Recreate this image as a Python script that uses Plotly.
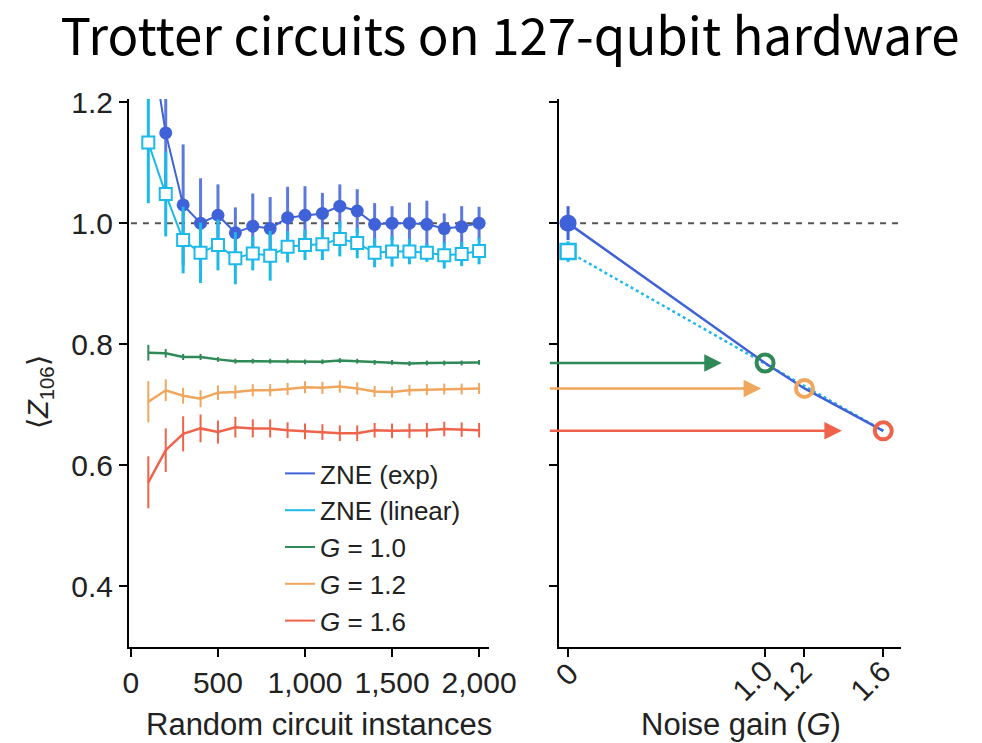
import plotly.graph_objects as go

# ---------------- data ----------------
instances = [100, 200, 300, 400, 500, 600, 700, 800, 900, 1000,
             1100, 1200, 1300, 1400, 1500, 1600, 1700, 1800, 1900, 2000]

zne_exp = [1.33, 1.149, 1.030, 1.000, 1.013, 0.984, 0.995, 0.991, 1.009, 1.013,
           1.016, 1.028, 1.020, 0.998, 1.000, 1.000, 0.998, 0.991, 0.994, 1.000]
zne_exp_err = [0.10, 0.10, 0.10, 0.074, 0.051, 0.042, 0.054, 0.052, 0.051, 0.048,
               0.034, 0.036, 0.036, 0.035, 0.028, 0.034, 0.039, 0.025, 0.034, 0.027]

zne_lin = [1.133, 1.048, 0.972, 0.951, 0.964, 0.942, 0.950, 0.946, 0.961, 0.964,
           0.965, 0.974, 0.967, 0.951, 0.953, 0.953, 0.951, 0.947, 0.949, 0.954]
zne_lin_err = [0.10, 0.07, 0.055, 0.05, 0.042, 0.043, 0.028, 0.041, 0.026, 0.025,
               0.026, 0.029, 0.025, 0.024, 0.025, 0.021, 0.015, 0.022, 0.020, 0.022]

g10 = [0.786, 0.785, 0.779, 0.779, 0.775, 0.772, 0.772, 0.772, 0.772, 0.771,
       0.771, 0.773, 0.772, 0.770, 0.770, 0.768, 0.769, 0.769, 0.769, 0.770]
g10_err = [0.013, 0.007, 0.005, 0.005, 0.004, 0.004, 0.004, 0.004, 0.004, 0.004,
           0.004, 0.004, 0.004, 0.004, 0.004, 0.004, 0.004, 0.004, 0.004, 0.004]

g12 = [0.705, 0.724, 0.715, 0.710, 0.720, 0.721, 0.724, 0.724, 0.726, 0.729,
       0.728, 0.730, 0.727, 0.722, 0.721, 0.724, 0.725, 0.726, 0.726, 0.727]
g12_err = [0.034, 0.018, 0.013, 0.014, 0.012, 0.011, 0.010, 0.010, 0.010, 0.010,
           0.010, 0.010, 0.010, 0.009, 0.009, 0.009, 0.009, 0.009, 0.009, 0.009]

g16 = [0.572, 0.625, 0.652, 0.661, 0.655, 0.663, 0.661, 0.661, 0.658, 0.656,
       0.655, 0.653, 0.653, 0.658, 0.657, 0.657, 0.658, 0.660, 0.659, 0.658]
g16_err = [0.043, 0.036, 0.029, 0.023, 0.019, 0.017, 0.015, 0.015, 0.013, 0.013,
           0.013, 0.013, 0.013, 0.012, 0.012, 0.012, 0.012, 0.012, 0.012, 0.012]

noise_gains = [1.0, 1.2, 1.6]
noise_gain_means = [0.769, 0.727, 0.657]
zero_gain = [0.0]
zne_exp_final = [1.000]
zne_exp_final_err = [0.028]
zne_lin_final = [0.953]
zne_lin_final_err = [0.017]
# exponential-fit path through the measured points, and linear fit end points
exp_fit_gain = [0.0, 1.0, 1.2, 1.6]
exp_fit_value = [1.000, 0.769, 0.727, 0.657]
lin_fit_gain = [0.0, 1.6]
lin_fit_value = [0.953, 0.657]
# arrows (left panel series carried over to the right panel)
arrow_start_gain = -0.10
arrow_end_gains = [0.78, 0.98, 1.39]

ideal_value = 1.0

left_xticks = [0, 500, 1000, 1500, 2000]
left_xticklabels = ["0", "500", "1,000", "1,500", "2,000"]
yticks = [0.4, 0.6, 0.8, 1.0, 1.2]
yticklabels = ["0.4", "0.6", "0.8", "1.0", "1.2"]
right_xticks = [0, 1.0, 1.2, 1.6]
right_xticklabels = ["0", "1.0", "1.2", "1.6"]

# ---------------- styles ----------------
C_EXP = "#3f62d8"
C_LIN = "#1db9ea"
C_G10 = "#2f8a57"
C_G12 = "#f0a65c"
C_G16 = "#ef634b"
FONT = "Liberation Sans, Arial, Helvetica, sans-serif"
W, H = 982, 743
OFF = 8          # page body margin compensation
T_M, B_M = 99 - OFF, 96 + OFF
PLOT_BOTTOM = H - B_M
PLOT_H = H - T_M - B_M


def px_x(sx):
    return (sx - OFF) / W


def px_y(sy):
    return (PLOT_BOTTOM - (sy - OFF)) / PLOT_H


fig = go.Figure()

# reference dashed lines
fig.add_trace(go.Scatter(x=[0, instances[-1]], y=[ideal_value, ideal_value], mode="lines",
                         line=dict(color="#555555", width=2, dash="6px,6px"),
                         showlegend=False, hoverinfo="skip", xaxis="x", yaxis="y"))
fig.add_trace(go.Scatter(x=[0, 1.68], y=[ideal_value, ideal_value], mode="lines",
                         line=dict(color="#555555", width=2, dash="6px,6px"),
                         showlegend=False, hoverinfo="skip", xaxis="x2", yaxis="y2"))

# G curves (left)
for vals, errs, col in [(g10, g10_err, C_G10), (g12, g12_err, C_G12), (g16, g16_err, C_G16)]:
    fig.add_trace(go.Scatter(
        x=instances, y=vals, mode="lines",
        line=dict(color=col, width=2.5),
        error_y=dict(type="data", array=errs, visible=True, color=col, thickness=2, width=0),
        showlegend=False, xaxis="x", yaxis="y"))

# ZNE exp (left)
fig.add_trace(go.Scatter(
    x=instances, y=zne_exp, mode="lines+markers",
    line=dict(color=C_EXP, width=2),
    marker=dict(symbol="circle", size=13, color=C_EXP),
    error_y=dict(type="data", array=zne_exp_err, visible=True, color="rgba(63,98,216,0.85)",
                 thickness=3, width=0),
    showlegend=False, xaxis="x", yaxis="y"))

# ZNE linear (left)
fig.add_trace(go.Scatter(
    x=instances, y=zne_lin, mode="lines+markers",
    line=dict(color=C_LIN, width=2),
    marker=dict(symbol="square", size=12, color="white", line=dict(color=C_LIN, width=2)),
    error_y=dict(type="data", array=zne_lin_err, visible=True, color=C_LIN,
                 thickness=3, width=0),
    showlegend=False, xaxis="x", yaxis="y"))

# right panel fits
fig.add_trace(go.Scatter(x=lin_fit_gain, y=lin_fit_value, mode="lines",
                         line=dict(color=C_LIN, width=2.5, dash="dot"),
                         showlegend=False, xaxis="x2", yaxis="y2"))
fig.add_trace(go.Scatter(x=exp_fit_gain, y=exp_fit_value, mode="lines",
                         line=dict(color=C_EXP, width=2.5),
                         showlegend=False, xaxis="x2", yaxis="y2"))

# right panel measured points
for g, v, col in zip(noise_gains, noise_gain_means, [C_G10, C_G12, C_G16]):
    fig.add_trace(go.Scatter(x=[g], y=[v], mode="markers",
                             marker=dict(symbol="circle-open", size=17, color=col,
                                         line=dict(color=col, width=4)),
                             showlegend=False, xaxis="x2", yaxis="y2"))

# right panel extrapolated values
fig.add_trace(go.Scatter(x=zero_gain, y=zne_exp_final, mode="markers",
                         marker=dict(symbol="circle", size=17, color=C_EXP),
                         error_y=dict(type="data", array=zne_exp_final_err, visible=True,
                                      color=C_EXP, thickness=3, width=0),
                         showlegend=False, xaxis="x2", yaxis="y2"))
fig.add_trace(go.Scatter(x=zero_gain, y=zne_lin_final, mode="markers",
                         marker=dict(symbol="square", size=15, color="white",
                                     line=dict(color=C_LIN, width=2.5)),
                         error_y=dict(type="data", array=zne_lin_final_err, visible=True,
                                      color=C_LIN, thickness=3, width=0),
                         showlegend=False, xaxis="x2", yaxis="y2"))

# legend-only entries
legend_items = [("ZNE (exp)", C_EXP), ("ZNE (linear)", C_LIN),
                ("<i>G</i> = 1.0", C_G10), ("<i>G</i> = 1.2", C_G12), ("<i>G</i> = 1.6", C_G16)]
for name, col in legend_items:
    fig.add_trace(go.Scatter(x=[None], y=[None], mode="lines", name=name,
                             line=dict(color=col, width=2), xaxis="x", yaxis="y"))

# arrows
annotations = []
for end_g, v, col in zip(arrow_end_gains, noise_gain_means, [C_G10, C_G12, C_G16]):
    annotations.append(dict(x=end_g, y=v, ax=arrow_start_gain, ay=v,
                            xref="x2", yref="y2", axref="x2", ayref="y2",
                            showarrow=True, arrowhead=2, arrowsize=1.4, arrowwidth=2.5,
                            arrowcolor=col, text=""))

# rotated tick labels of the noise-gain axis (placed at the tick values)
for tv, tl in zip(right_xticks, right_xticklabels):
    shift = -2 if tl == "0" else -13
    annotations.append(dict(text=tl, x=tv, xref="x2", y=px_y(680 if tl != "0" else 674),
                            yref="paper", showarrow=False, textangle=-45, xshift=shift,
                            xanchor="center", yanchor="middle",
                            font=dict(family=FONT, size=30, color="#222")))

# axis titles / labels
annotations.append(dict(text="Random circuit instances", x=px_x(319), y=px_y(724),
                        xref="paper", yref="paper", showarrow=False,
                        font=dict(family=FONT, size=31, color="#222"), xanchor="center", yanchor="middle"))
annotations.append(dict(text="Noise gain (<i>G</i>)", x=px_x(741), y=px_y(724),
                        xref="paper", yref="paper", showarrow=False,
                        font=dict(family=FONT, size=31, color="#222"), xanchor="center", yanchor="middle"))
annotations.append(dict(text="⟨<i>Z</i><sub>106</sub>⟩", x=px_x(40), y=px_y(392),
                        xref="paper", yref="paper", showarrow=False, textangle=-90,
                        font=dict(family=FONT, size=29, color="#222"), xanchor="center", yanchor="middle"))

axis_common = dict(showline=True, linecolor="black", linewidth=2, ticks="outside",
                   ticklen=8, tickwidth=2, tickcolor="black", showgrid=False, zeroline=False,
                   automargin=False,
                   tickfont=dict(family=FONT, size=30, color="#222"))

fig.update_layout(
    width=W, height=H,
    margin=dict(l=0, r=0, t=T_M, b=B_M),
    paper_bgcolor="white", plot_bgcolor="white",
    title=dict(text="Trotter circuits on 127-qubit hardware", x=(510 - OFF) / W, xanchor="center",
               y=1 - (37 - OFF) / H, yanchor="middle",
               font=dict(family="Noto Sans CJK JP, Noto Sans, sans-serif", size=51, color="black")),
    xaxis=dict(domain=[px_x(129), px_x(489)], range=[-11, 2057],
               tickvals=left_xticks, ticktext=left_xticklabels, anchor="y", **axis_common),
    yaxis=dict(domain=[0, 1], range=[0.3, 1.205], tickvals=yticks, ticktext=yticklabels,
               anchor="x", **axis_common),
    xaxis2=dict(domain=[px_x(559), px_x(901)], range=[-0.046, 1.69],
                tickvals=right_xticks, showticklabels=False,
                anchor="y2", **axis_common),
    yaxis2=dict(domain=[0, 1], range=[0.3, 1.205], tickvals=yticks, showticklabels=False,
                anchor="x2", **axis_common),
    legend=dict(x=px_x(280), y=px_y(450), xanchor="left", yanchor="top",
                font=dict(family=FONT, size=26, color="#222"),
                bgcolor="rgba(0,0,0,0)", tracegroupgap=0, itemwidth=30),
    annotations=annotations,
    showlegend=True,
)

fig.write_html("out.html")
